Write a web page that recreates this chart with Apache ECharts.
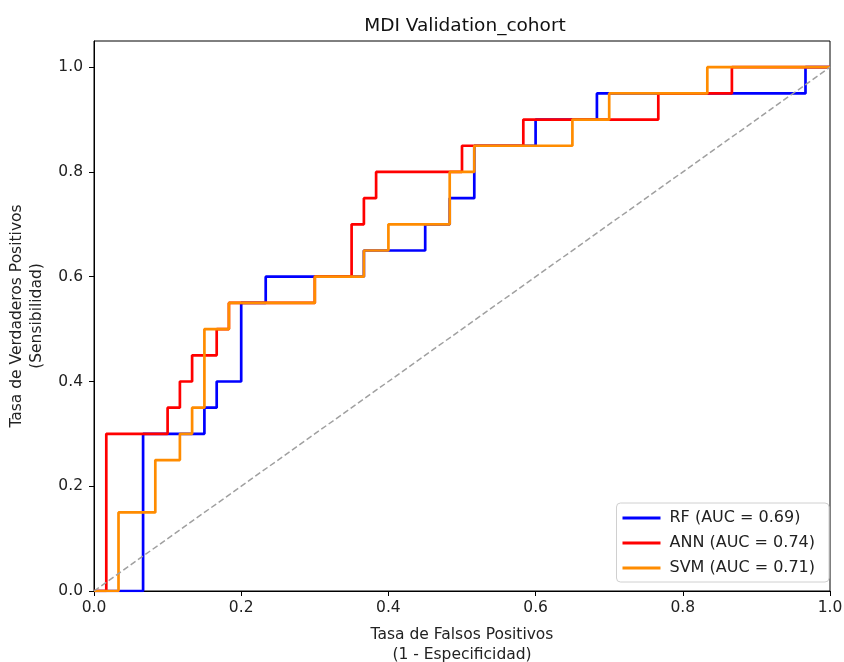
<!DOCTYPE html>
<html>
<head>
<meta charset="utf-8">
<script src="https://cdn.jsdelivr.net/npm/echarts@6/dist/echarts.min.js"></script>
<style>
  html, body { margin: 0; padding: 0; background: #fff; }
  #rocChart { width: 844px; height: 662px; }
</style>
</head>
<body>
<div id="rocChart"></div>
<script>
// ROC points (fpr / tpr), 60 negatives / 20 positives
var rfFpr  = [0, 0.0667, 0.0667, 0.15, 0.15, 0.1667, 0.1667, 0.2, 0.2, 0.2333, 0.2333, 0.3667, 0.3667, 0.45, 0.45, 0.4833, 0.4833, 0.5167, 0.5167, 0.6, 0.6, 0.6833, 0.6833, 0.9667, 0.9667, 1];
var rfTpr  = [0, 0, 0.3, 0.3, 0.35, 0.35, 0.4, 0.4, 0.55, 0.55, 0.6, 0.6, 0.65, 0.65, 0.7, 0.7, 0.75, 0.75, 0.85, 0.85, 0.9, 0.9, 0.95, 0.95, 1, 1];
var annFpr = [0, 0.0167, 0.0167, 0.1, 0.1, 0.1167, 0.1167, 0.1333, 0.1333, 0.1667, 0.1667, 0.1833, 0.1833, 0.3, 0.3, 0.35, 0.35, 0.3667, 0.3667, 0.3833, 0.3833, 0.5, 0.5, 0.5833, 0.5833, 0.7667, 0.7667, 0.8667, 0.8667, 1];
var annTpr = [0, 0, 0.3, 0.3, 0.35, 0.35, 0.4, 0.4, 0.45, 0.45, 0.5, 0.5, 0.55, 0.55, 0.6, 0.6, 0.7, 0.7, 0.75, 0.75, 0.8, 0.8, 0.85, 0.85, 0.9, 0.9, 0.95, 0.95, 1, 1];
var svmFpr = [0, 0.0333, 0.0333, 0.0833, 0.0833, 0.1167, 0.1167, 0.1333, 0.1333, 0.15, 0.15, 0.1833, 0.1833, 0.3, 0.3, 0.3667, 0.3667, 0.4, 0.4, 0.4833, 0.4833, 0.5167, 0.5167, 0.65, 0.65, 0.7, 0.7, 0.8333, 0.8333, 1];
var svmTpr = [0, 0, 0.15, 0.15, 0.25, 0.25, 0.3, 0.3, 0.35, 0.35, 0.5, 0.5, 0.55, 0.55, 0.6, 0.6, 0.65, 0.65, 0.7, 0.7, 0.8, 0.8, 0.85, 0.85, 0.9, 0.9, 0.95, 0.95, 1, 1];

var modelNames = ['RF (AUC = 0.69)', 'ANN (AUC = 0.74)', 'SVM (AUC = 0.71)'];
var modelColors = ['#0000ff', '#ff0000', '#ff8c00'];
var tickValues = [0, 0.2, 0.4, 0.6, 0.8, 1.0];

function zip(xs, ys) {
  return xs.map(function (x, i) { return [x, ys[i]]; });
}

var curves = [zip(rfFpr, rfTpr), zip(annFpr, annTpr), zip(svmFpr, svmTpr)];

var chart = echarts.init(document.getElementById('rocChart'));

var font = 'DejaVu Sans';
var axisCommon = {
  type: 'value',
  min: 0,
  interval: 0.2,
  axisLine: { show: true, onZero: false, lineStyle: { color: '#000', width: 1 } },
  axisTick: { show: true, inside: false, length: 5, customValues: tickValues, lineStyle: { color: '#000' } },
  axisLabel: {
    customValues: tickValues,
    color: '#222', fontSize: 15.5, fontFamily: font,
    formatter: function (v) { return v.toFixed(1); }
  },
  splitLine: { show: false },
  nameLocation: 'middle',
  nameTextStyle: { color: '#222', fontSize: 15.5, fontFamily: font, lineHeight: 20 }
};

var series = curves.map(function (pts, i) {
  return {
    name: modelNames[i],
    type: 'line',
    data: pts,
    showSymbol: false,
    symbol: 'none',
    lineStyle: { color: modelColors[i], width: 2.7 },
    itemStyle: { color: modelColors[i] },
    animation: false
  };
});

series.push({
  name: 'chance',
  type: 'line',
  data: [[0, 0], [1, 1]],
  symbol: 'none',
  lineStyle: { color: '#a0a0a0', width: 1.5, type: [6, 3] },
  silent: true,
  animation: false
});

chart.setOption({
  backgroundColor: '#fff',
  animation: false,
  title: {
    text: 'MDI Validation_cohort',
    left: 460,
    top: 12,
    textAlign: 'center',
    textStyle: { color: '#111', fontSize: 18.5, fontWeight: 'normal', fontFamily: font }
  },
  grid: {
    left: 94, right: 14, top: 41, bottom: 71,
    outerBoundsMode: 'none',
    containLabel: false,
    show: true, borderColor: '#000', borderWidth: 1, backgroundColor: '#fff'
  },
  legend: {
    data: modelNames,
    orient: 'vertical',
    right: 15,
    bottom: 80,
    icon: 'rect',
    itemWidth: 38,
    itemHeight: 3,
    itemGap: 9,
    padding: [7, 14, 6, 6],
    backgroundColor: '#fff',
    borderColor: '#d0d0d0',
    borderWidth: 1,
    borderRadius: 4,
    textStyle: { color: '#222', fontSize: 16, fontFamily: font, padding: [0, 0, 0, 4] }
  },
  xAxis: Object.assign({}, axisCommon, {
    max: 1,
    axisLabel: Object.assign({}, axisCommon.axisLabel, { margin: 9 }),
    name: 'Tasa de Falsos Positivos\n(1 - Especificidad)',
    nameGap: 34
  }),
  yAxis: Object.assign({}, axisCommon, {
    max: 1.05,
    axisLabel: Object.assign({}, axisCommon.axisLabel, { margin: 11 }),
    name: 'Tasa de Verdaderos Positivos\n(Sensibilidad)',
    nameGap: 45
  }),
  series: series
});
</script>
</body>
</html>
